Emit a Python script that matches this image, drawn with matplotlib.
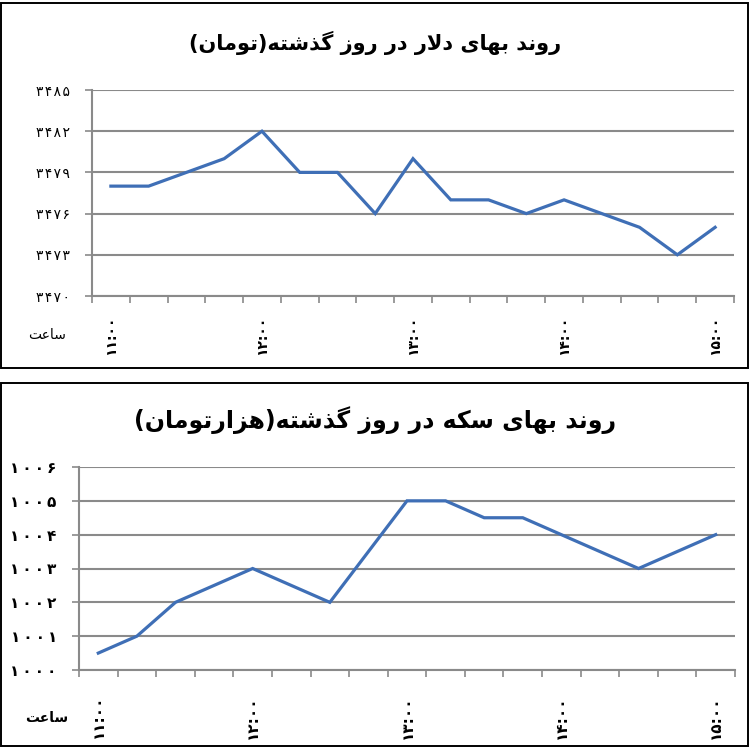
import matplotlib
matplotlib.use('Agg')
import matplotlib.pyplot as plt
from matplotlib.patches import Rectangle

# 15-minute samples from 11:00 to 15:00
hour_labels = ['11:00', '12:00', '13:00', '14:00', '15:00']
dollar = [3478, 3478, 3479, 3480, 3482, 3479, 3479, 3476, 3480,
          3477, 3477, 3476, 3477, 3476, 3475, 3473, 3475]
coin = [1000.5, 1001, 1002, 1002.5, 1003, 1002.5, 1002, 1003.5, 1005,
        1005, 1004.5, 1004.5, 1004, 1003.5, 1003, 1003.5, 1004]
dollar_ticks = [3470, 3473, 3476, 3479, 3482, 3485]
coin_ticks = [1000, 1001, 1002, 1003, 1004, 1005, 1006]

title_dollar = 'روند بهای دلار در روز گذشته(تومان)'
title_coin = 'روند بهای سکه در روز گذشته(هزارتومان)'
hour_text = 'ساعت'

LINE_COLOR = '#3f6fb6'
GRID_COLOR = '#8a8a8a'

# isolated, final, initial, medial
FORMS = {
    'ا': ('\uFE8D', '\uFE8E', None, None),
    'ب': ('\uFE8F', '\uFE90', '\uFE91', '\uFE92'),
    'ت': ('\uFE95', '\uFE96', '\uFE97', '\uFE98'),
    'د': ('\uFEA9', '\uFEAA', None, None),
    'ذ': ('\uFEAB', '\uFEAC', None, None),
    'ر': ('\uFEAD', '\uFEAE', None, None),
    'ز': ('\uFEAF', '\uFEB0', None, None),
    'س': ('\uFEB1', '\uFEB2', '\uFEB3', '\uFEB4'),
    'ش': ('\uFEB5', '\uFEB6', '\uFEB7', '\uFEB8'),
    'ع': ('\uFEC9', '\uFECA', '\uFECB', '\uFECC'),
    'ل': ('\uFEDD', '\uFEDE', '\uFEDF', '\uFEE0'),
    'م': ('\uFEE1', '\uFEE2', '\uFEE3', '\uFEE4'),
    'ن': ('\uFEE5', '\uFEE6', '\uFEE7', '\uFEE8'),
    'ه': ('\uFEE9', '\uFEEA', '\uFEEB', '\uFEEC'),
    'و': ('\uFEED', '\uFEEE', None, None),
    'ی': ('\uFBFC', '\uFBFD', '\uFBFE', '\uFBFF'),
    'ک': ('\uFB8E', '\uFB8F', '\uFB90', '\uFB91'),
    'گ': ('\uFB92', '\uFB93', '\uFB94', '\uFB95'),
}


def fa(text):
    # crude arabic shaping + visual reorder, matplotlib has no bidi
    out = []
    i = 0
    n = len(text)
    while i < n:
        ch = text[i]
        if ch not in FORMS:
            out.append(ch)
            i += 1
            continue
        prev = text[i - 1] if i > 0 else None
        jp = prev in FORMS and FORMS[prev][2] is not None
        if ch == 'ل' and i + 1 < n and text[i + 1] == 'ا':
            out.append('\uFEFC' if jp else '\uFEFB')
            i += 2
            continue
        nxt = text[i + 1] if i + 1 < n else None
        jn = FORMS[ch][2] is not None and nxt in FORMS
        f = FORMS[ch]
        if jp and jn:
            out.append(f[3])
        elif jp:
            out.append(f[1])
        elif jn:
            out.append(f[2])
        else:
            out.append(f[0])
        i += 1
    s = ''.join(out)[::-1]
    return s.translate(str.maketrans('()', ')('))


def fa_num(s, gap=''):
    s = str(s).translate(str.maketrans('0123456789', '۰۱۲۳۴۵۶۷۸۹'))
    return gap.join(s)


plt.rcParams['font.family'] = ['DejaVu Sans']

fig = plt.figure(figsize=(7.5, 7.49), dpi=100)

# panel frames
fig.patches.append(Rectangle((0.0015, 1 - 368 / 749), 0.996, 365 / 749,
                             transform=fig.transFigure, fill=False,
                             edgecolor='black', linewidth=1.4))
fig.patches.append(Rectangle((0.0015, 1 - 746 / 749), 0.996, 363 / 749,
                             transform=fig.transFigure, fill=False,
                             edgecolor='black', linewidth=1.4))


def draw_panel(rect, values, yticks, title, title_y, title_size, tick_size,
               tick_weight, tick_gap, hour_y, hour_weight, label_y, label_size):
    ax = fig.add_axes(rect)
    x = list(range(len(values)))
    ax.plot(x, values, color=LINE_COLOR, linewidth=2.3, solid_joinstyle='miter')
    ax.set_xlim(-0.5, len(values) - 0.5)
    ax.set_ylim(yticks[0], yticks[-1])
    ax.set_yticks(yticks)
    ax.set_yticklabels([fa_num(v, tick_gap) for v in yticks], fontsize=tick_size,
                       fontweight=tick_weight)
    ax.yaxis.grid(True, color=GRID_COLOR, linewidth=1.5)
    ax.set_axisbelow(True)
    ax.set_xticks([i - 0.5 for i in range(len(values) + 1)])
    ax.set_xticklabels([])
    ax.tick_params(axis='both', colors=GRID_COLOR, width=1.2, length=5,
                   labelcolor='black')
    ax.tick_params(axis='y', pad=11)
    for side in ['top', 'right']:
        ax.spines[side].set_visible(False)
    for side in ['left', 'bottom']:
        ax.spines[side].set_color(GRID_COLOR)
        ax.spines[side].set_linewidth(1.5)
    # hour labels sit under every 4th sample
    for k, lab in enumerate(hour_labels):
        ax.text(k * 4, label_y, fa_num(lab), rotation=90, ha='center', va='center',
                fontsize=label_size, fontweight='bold',
                transform=ax.get_xaxis_transform())
    fig.text(47 / 750, hour_y, fa(hour_text), ha='center', va='center',
             fontsize=10, fontweight=hour_weight)
    fig.text(0.5, title_y, fa(title), ha='center', va='center',
             fontsize=title_size, fontweight='bold')
    return ax


draw_panel([92 / 750, 1 - 296 / 749, 642 / 750, 206 / 749], dollar, dollar_ticks,
           title_dollar, 1 - 43 / 749, 15, 10, 'normal', '\u200a',
           1 - 335 / 749, 'normal', -0.19, 10)
draw_panel([79 / 750, 1 - 670 / 749, 656 / 750, 203 / 749], coin, coin_ticks,
           title_coin, 1 - 420 / 749, 17, 11, 'bold', '\u2009',
           1 - 718 / 749, 'bold', -0.23, 11)

fig.savefig('out.png', dpi=100)
